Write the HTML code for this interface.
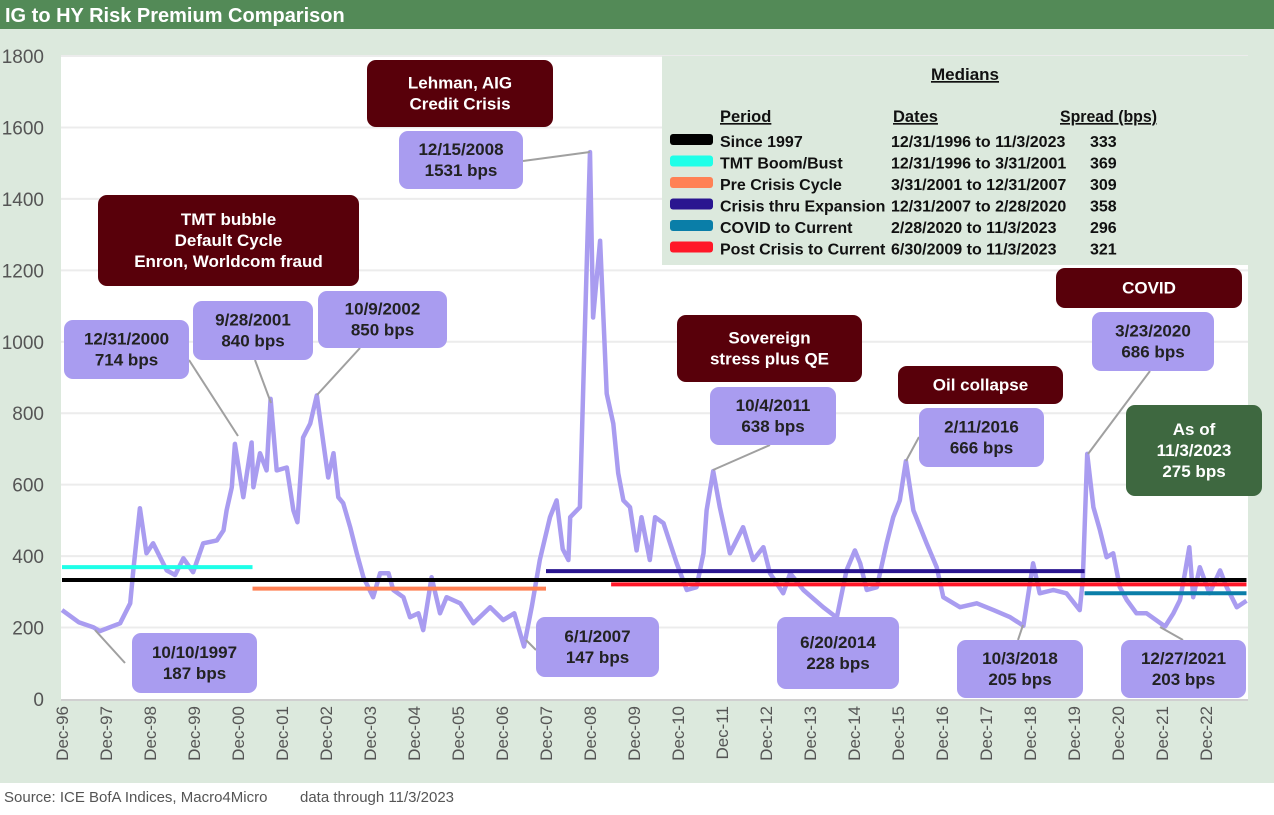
<!DOCTYPE html>
<html><head><meta charset="utf-8"><style>
body{margin:0;width:1274px;height:810px;overflow:hidden;background:#fff;font-family:"Liberation Sans",Arial,sans-serif}
</style></head><body>
<svg id="c" width="1274" height="810" xmlns="http://www.w3.org/2000/svg" font-family="Liberation Sans, Arial, sans-serif">
<rect x="0" y="0" width="1274" height="783" fill="#dce9dd"/>
<rect x="0" y="0" width="1274" height="29" fill="#538a57"/>
<text x="5" y="22" font-size="20" font-weight="bold" fill="#fff">IG to HY Risk Premium Comparison</text>
<rect x="61" y="56" width="1187" height="643" fill="#fff"/>
<g id="grid"></g><g id="yt"></g><g id="xt"></g>
<g id="lines"></g><g id="medians"></g>
<g id="ann"></g>
<text x="4" y="802" font-size="15" fill="#555">Source: ICE BofA Indices, Macro4Micro</text>
<text x="300" y="802" font-size="15" fill="#555">data through 11/3/2023</text>
</svg>
<script>
const years=[1996.92,1997.3,1997.63,1997.78,1998.24,1998.47,1998.54,1998.62,1998.69,1998.84,1998.99,1999.15,1999.3,1999.49,1999.68,1999.9,2000.13,2000.44,2000.59,2000.66,2000.78,2000.85,2001.04,2001.23,2001.27,2001.42,2001.57,2001.66,2001.8,2002.03,2002.18,2002.27,2002.4,2002.56,2002.71,2002.86,2002.97,2003.09,2003.2,2003.31,2003.47,2003.62,2003.77,2003.99,2004.15,2004.34,2004.45,2004.68,2004.83,2005.02,2005.13,2005.32,2005.51,2005.66,2005.97,2006.27,2006.65,2006.95,2007.2,2007.42,2007.6,2007.78,2008.01,2008.16,2008.3,2008.43,2008.47,2008.69,2008.81,2008.92,2008.99,2009.15,2009.3,2009.45,2009.56,2009.68,2009.83,2009.98,2010.09,2010.28,2010.4,2010.59,2010.89,2011.12,2011.34,2011.5,2011.57,2011.72,2011.87,2012.1,2012.4,2012.63,2012.86,2013.01,2013.31,2013.47,2013.77,2014.22,2014.53,2014.75,2014.94,2015.06,2015.21,2015.44,2015.66,2015.81,2015.96,2016.1,2016.27,2016.57,2016.8,2016.95,2017.33,2017.71,2018.09,2018.47,2018.77,2018.99,2019.14,2019.45,2019.75,2020.05,2020.12,2020.22,2020.36,2020.51,2020.66,2020.81,2020.96,2021.12,2021.34,2021.57,2021.99,2022.18,2022.33,2022.44,2022.54,2022.63,2022.78,2023.0,2023.24,2023.39,2023.62,2023.84];
const spreads=[249,215,201,190,212,268,360,453,534,408,436,397,360,347,394,355,436,444,472,528,593,714,565,718,593,688,640,840,640,648,528,495,732,771,850,716,620,688,565,548,481,408,341,285,352,352,305,285,229,240,193,341,240,285,268,212,257,221,240,147,260,389,509,556,420,389,509,537,1068,1531,1068,1283,855,771,632,556,537,416,509,389,509,492,380,305,313,408,528,638,537,408,481,389,425,352,296,352,305,257,228,360,416,380,305,313,436,509,556,666,528,436,369,285,257,268,249,229,205,380,296,305,296,249,333,686,537,472,397,408,313,277,240,240,203,240,277,352,425,285,369,296,360,313,257,275];
const medLabels=["Since 1997","TMT Boom/Bust","Pre Crisis Cycle","Crisis thru Expansion","COVID to Current","Post Crisis to Current"];
const medValues=[333,369,309,358,296,321];
const medStart=[1996.92,1996.92,2001.25,2007.92,2020.16,2009.4];
const medEnd=[2023.84,2001.25,2007.92,2020.16,2023.84,2023.84];
const medColors=["#000","#1effe8","#ff8155","#2a1690","#0a7ea8","#ff1728"];
const medDates=["12/31/1996 to 11/3/2023","12/31/1996 to 3/31/2001","3/31/2001 to 12/31/2007","12/31/2007 to 2/28/2020","2/28/2020 to 11/3/2023","6/30/2009 to 11/3/2023"];
const yTicks=[0,200,400,600,800,1000,1200,1400,1600,1800];
const xTickLabels=["Dec-96","Dec-97","Dec-98","Dec-99","Dec-00","Dec-01","Dec-02","Dec-03","Dec-04","Dec-05","Dec-06","Dec-07","Dec-08","Dec-09","Dec-10","Dec-11","Dec-12","Dec-13","Dec-14","Dec-15","Dec-16","Dec-17","Dec-18","Dec-19","Dec-20","Dec-21","Dec-22"];
const NS="http://www.w3.org/2000/svg";
function X(yr){return 62+(yr-1996.92)*44.0;}
function Y(v){return 699-v/1800*643;}
function mk(tag,attrs,parent,txt){const e=document.createElementNS(NS,tag);for(const k in attrs)e.setAttribute(k,attrs[k]);if(txt!==undefined)e.textContent=txt;document.getElementById(parent)?document.getElementById(parent).appendChild(e):parent.appendChild(e);return e;}
yTicks.forEach((t,i)=>{
  if(t>0){const g=mk('line',{x1:61,x2:1248,y1:Y(t),y2:Y(t),stroke:'#ececec','stroke-width':2},'grid');
  
  }
  const tx=mk('text',{x:44,y:Y(t)+7,'font-size':19,fill:'#555','text-anchor':'end'},'yt',String(t));
  
  
});
const ax=mk('line',{x1:61,x2:1248,y1:700,y2:700,stroke:'#d0d0d0','stroke-width':2},'grid');


xTickLabels.forEach((l,i)=>{
  const x=X(1996.92+i);
  const t=mk('text',{x:0,y:0,'font-size':17,fill:'#555','text-anchor':'end',transform:`translate(${x+6},706) rotate(-90)`},'xt',l);
  
  
});
let d='';years.forEach((y,i)=>{d+=(i?'L':'M')+X(y).toFixed(1)+' '+Y(spreads[i]).toFixed(1);});
const p=mk('path',{d:d,fill:'none',stroke:'#a99cf0','stroke-width':4.5,'stroke-linejoin':'round'},'lines');


medValues.forEach((v,i)=>{
  const l=mk('line',{x1:X(medStart[i]),x2:X(medEnd[i]),y1:Y(v),y2:Y(v),stroke:medColors[i],'stroke-width':4},'medians');
  
  
});
const lg=mk('g',{},'ann');


mk('rect',{x:662,y:56,width:586,height:209,fill:'#dce9dd'},lg);
mk('text',{x:965,y:80,'font-size':17,'font-weight':'bold','text-anchor':'middle','text-decoration':'underline',fill:'#111'},lg,'Medians');
mk('text',{x:720,y:122,'font-size':16.5,'font-weight':'bold','text-decoration':'underline',fill:'#111'},lg,'Period');
mk('text',{x:893,y:122,'font-size':16.5,'font-weight':'bold','text-decoration':'underline',fill:'#111'},lg,'Dates');
mk('text',{x:1060,y:122,'font-size':16.5,'font-weight':'bold','text-decoration':'underline',fill:'#111',textLength:97,lengthAdjust:'spacingAndGlyphs'},lg,'Spread (bps)');
medLabels.forEach((m,i)=>{
  const y=144+i*21.5;
  const e=mk('g',{},lg);
  
  
  mk('rect',{x:670,y:y-10,width:43,height:11,rx:3,fill:medColors[i]},e);
  mk('text',{x:720,y:y+3,'font-size':16,'font-weight':'bold',fill:'#111'},e,m);
  mk('text',{x:891,y:y+3,'font-size':16,'font-weight':'bold',fill:'#111'},e,medDates[i]);
  mk('text',{x:1090,y:y+3,'font-size':16,'font-weight':'bold',fill:'#111'},e,String(medValues[i]));
});
const leaders=[[189,360,238,436],[255,360,271,403],[360,348,317,395],[523,161,590,152],[125,663,95,630],[536,650,526,640],[770,445,713,470],[919,437,906,461],[1150,371,1088,454],[1018,640,1023,625],[1183,640,1160,627]];
leaders.forEach((l,i)=>{const e=mk('line',{x1:l[0],y1:l[1],x2:l[2],y2:l[3],stroke:'#a0a0a0','stroke-width':2},'ann');

});
function box(x,y,w,h,fill,color,lines,name,fs){
  const g=mk('g',{},'ann');
  
  
  mk('rect',{x:x,y:y,width:w,height:h,rx:9,fill:fill},g);
  const lh=fs+4;const top=y+h/2-(lines.length*lh)/2+fs-1;
  lines.forEach((t,i)=>mk('text',{x:x+w/2,y:top+i*lh,'font-size':fs,'font-weight':'bold',fill:color,'text-anchor':'middle'},g,t));
}
const P='#a99cf0',T='#222',R='#58000a',W='#fff';
box(64,320,125,59,P,T,['12/31/2000','714 bps'],'callout-2000-peak',17);
box(193,301,120,59,P,T,['9/28/2001','840 bps'],'callout-2001-peak',17);
box(318,291,129,57,P,T,['10/9/2002','850 bps'],'callout-2002-peak',17);
box(399,131,124,58,P,T,['12/15/2008','1531 bps'],'callout-2008-peak',17);
box(710,387,126,58,P,T,['10/4/2011','638 bps'],'callout-2011-peak',17);
box(919,408,125,59,P,T,['2/11/2016','666 bps'],'callout-2016-peak',17);
box(1092,312,122,59,P,T,['3/23/2020','686 bps'],'callout-2020-peak',17);
box(132,633,125,60,P,T,['10/10/1997','187 bps'],'callout-1997-low',17);
box(536,617,123,60,P,T,['6/1/2007','147 bps'],'callout-2007-low',17);
box(777,617,122,72,P,T,['6/20/2014','228 bps'],'callout-2014-low',17);
box(957,640,126,58,P,T,['10/3/2018','205 bps'],'callout-2018-low',17);
box(1121,640,125,58,P,T,['12/27/2021','203 bps'],'callout-2021-low',17);
box(367,60,186,67,R,W,['Lehman, AIG','Credit Crisis'],'event-lehman',17);
box(98,195,261,91,R,W,['TMT bubble','Default Cycle','Enron, Worldcom fraud'],'event-tmt-bubble',17);
box(677,315,185,67,R,W,['Sovereign','stress plus QE'],'event-sovereign-stress',17);
box(898,366,165,38,R,W,['Oil collapse'],'event-oil-collapse',17);
box(1056,268,186,40,R,W,['COVID'],'event-covid',17);
box(1126,405,136,91,'#3e6840',W,['As of','11/3/2023','275 bps'],'callout-latest',17);
</script>
</body></html>
